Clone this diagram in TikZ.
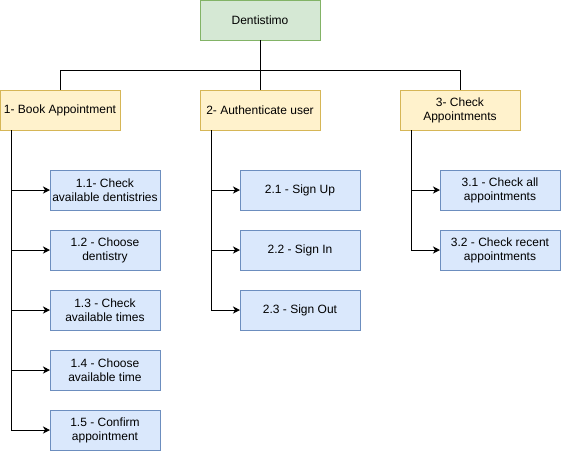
\documentclass[tikz,border=0pt]{standalone}
\usepackage{fontspec}
\setmainfont{Liberation Sans}
\usepackage{xcolor}
\usepackage{tikz}
\usetikzlibrary{positioning, arrows.meta, calc}

\definecolor{rootfill}{HTML}{D5E8D4}
\definecolor{rootline}{HTML}{82B366}
\definecolor{taskfill}{HTML}{FFF2CC}
\definecolor{taskline}{HTML}{D6B656}
\definecolor{subfill}{HTML}{DAE8FC}
\definecolor{subline}{HTML}{6C8EBF}

\begin{document}
\begin{tikzpicture}[x=1pt, y=1pt, line width=1pt, >={Stealth[length=7pt, width=7pt, inset=2pt]},
  rootbox/.style={draw=rootline, fill=rootfill, minimum width=120pt, minimum height=40pt, outer sep=0pt, align=center, inner sep=1pt, font=\fontsize{12}{14}\selectfont},
  taskbox/.style={draw=taskline, fill=taskfill, minimum width=120pt, minimum height=40pt, outer sep=0pt, align=center, inner sep=1pt, font=\fontsize{12}{14}\selectfont},
  subbox/.style={draw=subline, fill=subfill, minimum width=120pt, minimum height=40pt, outer sep=0pt, align=center, inner sep=1pt, font=\fontsize{12}{14}\selectfont},
  subsmall/.style={subbox, minimum width=110pt}]

  \useasboundingbox (0,0) rectangle (561,-451);

  \node[taskbox] at (60,-110) (book) {1- Book Appointment};
  \node[taskbox, right=80pt of book] (auth) {2- Authenticate user};
  \node[taskbox, right=80pt of auth] (check) {3- Check\\Appointments};
  \node[rootbox, above=50pt of auth] (root) {Dentistimo};

  \node[subsmall, below right=40pt and 50pt of book.south west] (c11) {1.1- Check\\available dentistries};
  \node[subsmall, below=20pt of c11] (c12) {1.2 - Choose\\dentistry};
  \node[subsmall, below=20pt of c12] (c13) {1.3 - Check\\available times};
  \node[subsmall, below=20pt of c13] (c14) {1.4 - Choose\\available time};
  \node[subsmall, below=20pt of c14] (c15) {1.5 - Confirm\\appointment};

  \node[subbox, below right=40pt and 40pt of auth.south west] (c21) {2.1 - Sign Up};
  \node[subbox, below=20pt of c21] (c22) {2.2 - Sign In};
  \node[subbox, below=20pt of c22] (c23) {2.3 - Sign Out};

  \node[subbox, below right=40pt and 40pt of check.south west] (c31) {3.1 - Check all\\appointments};
  \node[subbox, below=20pt of c31] (c32) {3.2 - Check recent\\appointments};

  \draw (root.south) -- ++(0,-30) -| (book.north);
  \draw (root.south) -- (auth.north);
  \draw (root.south) -- ++(0,-30) -| (check.north);

  \foreach \c in {c11, c12, c13, c14, c15}
    \draw[->] ([xshift=11pt]book.south west) |- (\c.west);
  \foreach \c in {c21, c22, c23}
    \draw[->] ([xshift=11pt]auth.south west) |- (\c.west);
  \foreach \c in {c31, c32}
    \draw[->] ([xshift=11pt]check.south west) |- (\c.west);
\end{tikzpicture}
\end{document}
